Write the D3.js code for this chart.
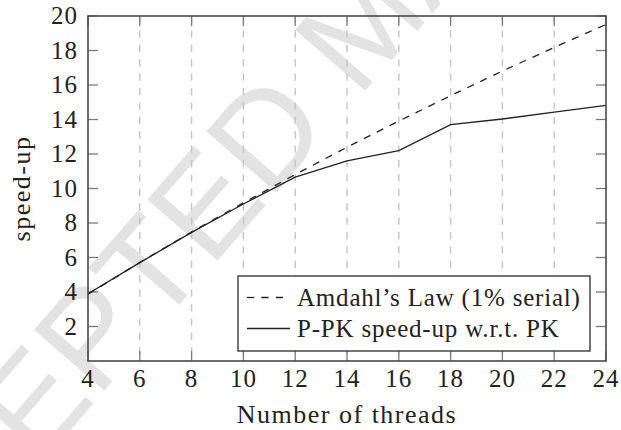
<!DOCTYPE html>
<html>
<head>
<meta charset="utf-8">
<script src="https://cdn.jsdelivr.net/npm/d3@7"></script>
<style>
  body { margin: 0; background: #fff; }
  svg { display: block; }
</style>
</head>
<body>
<svg width="621" height="430"></svg>
<script>
// data
var threads = [4, 6, 8, 10, 12, 14, 16, 18, 20, 22, 24];
var amdahl = [3.88, 5.71, 7.48, 9.17, 10.81, 12.39, 13.91, 15.38, 16.81, 18.18, 19.51];
var ppk = [3.9, 5.7, 7.46, 9.1, 10.66, 11.6, 12.2, 13.7, 14.03, 14.43, 14.82];
var xTicks = [4, 6, 8, 10, 12, 14, 16, 18, 20, 22, 24];
var yTicks = [2, 4, 6, 8, 10, 12, 14, 16, 18, 20];
var seriesNames = ["Amdahl\u2019s Law (1% serial)", "P-PK speed-up w.r.t. PK"];

var serif = "'Liberation Serif', 'Times New Roman', serif";
var svg = d3.select("svg");
var plotL = 88, plotR = 606, plotT = 16, plotB = 361;

var x = d3.scaleLinear().domain([4, 24]).range([plotL, plotR]);
var y = d3.scaleLinear().domain([0, 20]).range([plotB, plotT]);

// watermark behind everything
svg.append("text")
    .attr("transform", "translate(-149,682) rotate(-49)")
    .attr("font-family", "'Liberation Sans', Arial, sans-serif")
    .attr("font-size", 135)
    .attr("fill", "#e3e3e3")
    .text("ACCEPTED MANUSCRIPT");

// vertical dashed grid
svg.append("g")
    .selectAll("line")
    .data(xTicks.slice(1, -1))
    .enter().append("line")
    .attr("x1", d => x(d)).attr("x2", d => x(d))
    .attr("y1", plotT).attr("y2", plotB)
    .attr("stroke", "#c4c4c4")
    .attr("stroke-width", 1.4)
    .attr("stroke-dasharray", "7.2,7.2");

// ticks pointing inward on all four sides
var tickLen = 10;
var ticks = svg.append("g").attr("stroke", "#7a7a7a").attr("stroke-width", 1.3);
ticks.selectAll(".xb").data(xTicks).enter().append("line")
    .attr("x1", d => x(d)).attr("x2", d => x(d))
    .attr("y1", plotB).attr("y2", plotB - tickLen);
ticks.selectAll(".xt").data(xTicks).enter().append("line")
    .attr("x1", d => x(d)).attr("x2", d => x(d))
    .attr("y1", plotT).attr("y2", plotT + tickLen);
ticks.selectAll(".yl").data(yTicks).enter().append("line")
    .attr("x1", plotL).attr("x2", plotL + tickLen)
    .attr("y1", d => y(d)).attr("y2", d => y(d));
ticks.selectAll(".yr").data(yTicks).enter().append("line")
    .attr("x1", plotR).attr("x2", plotR - tickLen)
    .attr("y1", d => y(d)).attr("y2", d => y(d));

// lines
var line = d3.line()
    .x((d, i) => x(threads[i]))
    .y(d => y(d));

svg.append("path")
    .datum(amdahl)
    .attr("d", line)
    .attr("fill", "none")
    .attr("stroke", "#222")
    .attr("stroke-width", 1.3)
    .attr("stroke-dasharray", "7.2,7.2");

svg.append("path")
    .datum(ppk)
    .attr("d", line)
    .attr("fill", "none")
    .attr("stroke", "#222")
    .attr("stroke-width", 1.3);

// frame
svg.append("rect")
    .attr("x", plotL).attr("y", plotT)
    .attr("width", plotR - plotL).attr("height", plotB - plotT)
    .attr("fill", "none")
    .attr("stroke", "#4a4a4a")
    .attr("stroke-width", 1.6);

// tick labels
svg.append("g").selectAll("text")
    .data(xTicks)
    .enter().append("text")
    .attr("x", d => x(d))
    .attr("y", 387)
    .attr("text-anchor", "middle")
    .attr("font-family", serif)
    .attr("font-size", 25)
    .attr("fill", "#222")
    .attr("letter-spacing", 1)
    .text(d => d);

svg.append("g").selectAll("text")
    .data(yTicks)
    .enter().append("text")
    .attr("x", plotL - 10)
    .attr("y", d => y(d) + 8)
    .attr("text-anchor", "end")
    .attr("font-family", serif)
    .attr("font-size", 25)
    .attr("fill", "#222")
    .attr("letter-spacing", 1)
    .text(d => d);

// axis labels
svg.append("text")
    .attr("x", (plotL + plotR) / 2)
    .attr("y", 423)
    .attr("text-anchor", "middle")
    .attr("font-family", serif)
    .attr("font-size", 26)
    .attr("fill", "#222")
    .attr("letter-spacing", 1.5)
    .text("Number of threads");

svg.append("text")
    .attr("transform", "translate(30," + (plotT + plotB) / 2 + ") rotate(-90)")
    .attr("text-anchor", "middle")
    .attr("font-family", serif)
    .attr("font-size", 26)
    .attr("fill", "#222")
    .attr("letter-spacing", 1.5)
    .text("speed-up");

// legend
var legend = svg.append("g");
legend.append("rect")
    .attr("x", 238).attr("y", 276)
    .attr("width", 352).attr("height", 75)
    .attr("fill", "#fff")
    .attr("stroke", "#3a3a3a")
    .attr("stroke-width", 1.4);

var rows = legend.selectAll("g.row")
    .data(seriesNames)
    .enter().append("g")
    .attr("transform", (d, i) => "translate(0," + (297.5 + i * 31) + ")");

rows.append("line")
    .attr("x1", 247).attr("x2", 290)
    .attr("stroke", "#222")
    .attr("stroke-width", 1.3)
    .attr("stroke-dasharray", (d, i) => i === 0 ? "7.2,7.2" : null);

rows.append("text")
    .attr("x", 297)
    .attr("y", 8)
    .attr("font-family", serif)
    .attr("font-size", 25)
    .attr("fill", "#222")
    .attr("letter-spacing", 0.8)
    .text(d => d);
</script>
</body>
</html>
